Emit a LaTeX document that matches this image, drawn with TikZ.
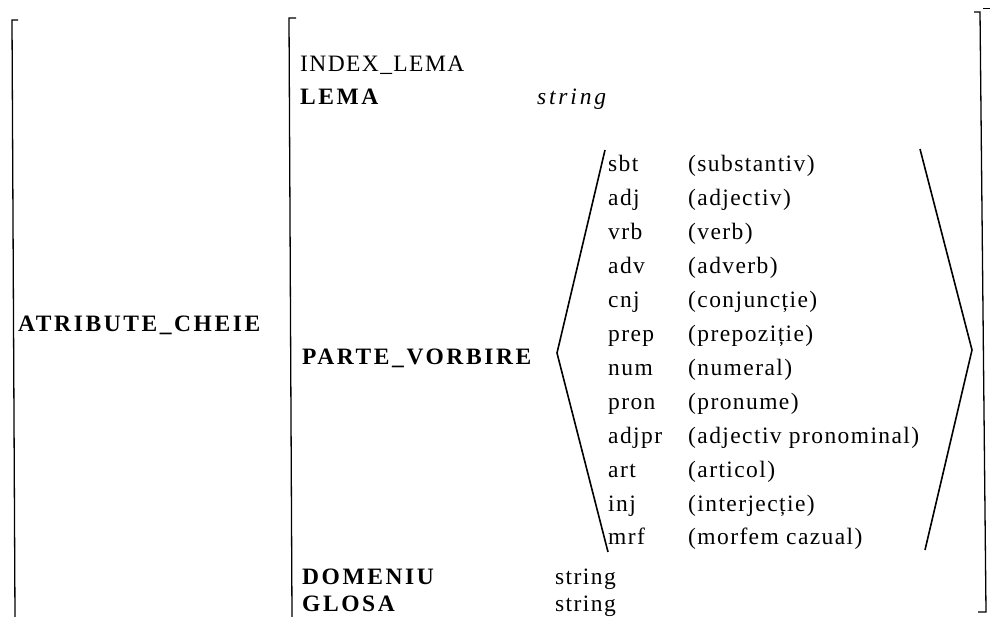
\documentclass[tikz,border=0pt]{standalone}
\usepackage{fontspec}
\setmainfont{Liberation Serif}
\newfontfamily\regsp{Liberation Serif}[LetterSpace=6]
\newfontfamily\bolsp{Liberation Serif}[LetterSpace=11]
\newfontfamily\itasp{Liberation Serif}[LetterSpace=12]
\begin{document}
\begin{tikzpicture}[x=1pt,y=-1pt,
  line join=miter,
  txt/.style={anchor=base west, inner sep=0pt, font=\fontsize{23.5}{28}\selectfont\regsp},
  key/.style={anchor=base west, inner sep=0pt, font=\fontsize{23.5}{28}\selectfont\bolsp\bfseries},
  emph/.style={anchor=base west, inner sep=0pt, font=\fontsize{23.5}{28}\selectfont\itasp\itshape},
  brk/.style={line width=1.3pt},
  ang/.style={line width=1.6pt}]
\useasboundingbox (0,0) rectangle (990,617);

% outer brackets
\draw[brk] (18,20) -- (12,20) -- (15,617);
\draw[brk] (296,18) -- (289,18) -- (292,617);
\draw[brk] (974,12) -- (980,12) -- (986,612) -- (978,612);
\draw[line width=1pt] (983,9) -- (990,9);

% attribute names
\node[key] (atr) at (18,332) {ATRIBUTE\_CHEIE};
\node[txt] (idx) at (300,72) {INDEX\_LEMA};
\node[key] (lema) at (300,105) {LEMA};
\node[emph] (lemat) at (537,105) {string};
\node[key] (pv) at (302,364) {PARTE\_VORBIRE};
\node[key] (dom) at (302,584) {DOMENIU};
\node[txt] (domt) at (555,584) {string};
\node[key] (glo) at (302,611) {GLOSA};
\node[txt] (glot) at (555,611) {string};

% parts of speech
\foreach \ab/\nm [count=\i from 0] in {sbt/(substantiv), adj/(adjectiv), vrb/(verb),
    adv/(adverb), cnj/(conjuncție), prep/(prepoziție), num/(numeral),
    pron/(pronume), adjpr/(adjectiv pronominal), art/(articol),
    inj/(interjecție), mrf/(morfem cazual)} {
  \node[txt] (ab\i) at (608,{172+33.9*\i}) {\ab};
  \node[txt] (nm\i) at (688,{172+33.9*\i}) {\nm};
}

% angle brackets around the list
\draw[ang] (605,150) -- (557,353) -- (608,552);
\draw[ang] (920,149) -- (972,350) -- (925,550);
\end{tikzpicture}
\end{document}
